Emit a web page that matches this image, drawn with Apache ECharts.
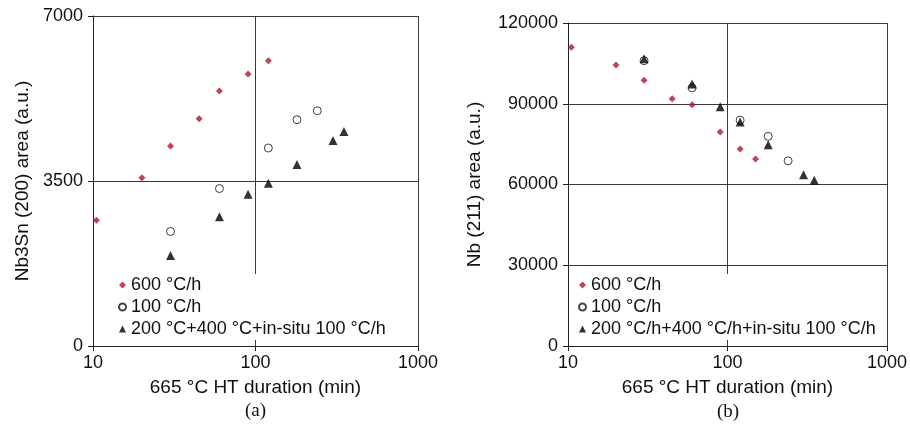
<!DOCTYPE html>
<html>
<head>
<meta charset="utf-8">
<script src="https://cdn.jsdelivr.net/npm/echarts@6/dist/echarts.min.js"></script>
<style>
html,body{margin:0;padding:0;background:#fff;}
#c{width:910px;height:430px;}
</style>
</head>
<body>
<div id="c"></div>
<script>
// ---- Data ----
var nameA600 = '600 °C/h';
var nameA100 = '100 °C/h';
var nameAStep = '200 °C+400 °C+in-situ 100 °C/h';
var nameBStep = '200 °C/h+400 °C/h+in-situ 100 °C/h';

var a600x = [10.5, 20, 30, 45, 60, 90, 120];
var a600y = [2670, 3570, 4240, 4820, 5410, 5770, 6050];
var a100x = [30, 60, 120, 180, 240];
var a100y = [2430, 3340, 4200, 4800, 4990];
var aStepX = [30, 60, 90, 120, 180, 300, 350];
var aStepY = [1920, 2740, 3220, 3450, 3850, 4360, 4550];

var b600x = [10.5, 20, 30, 45, 60, 90, 120, 150];
var b600y = [111000, 104400, 98700, 91900, 89600, 79500, 73200, 69500];
var b100x = [30, 60, 120, 180, 240];
var b100y = [106000, 95900, 83900, 77900, 68800];
var bStepX = [30, 60, 90, 120, 180, 300, 350];
var bStepY = [106700, 97300, 88900, 83200, 74800, 63600, 61600];

var xTitle = '665 °C HT duration (min)';
var yTitleA = 'Nb3Sn (200) area (a.u.)';
var yTitleB = 'Nb (211) area (a.u.)';

function zip(xs, ys){ return xs.map(function(x,i){ return [x, ys[i]]; }); }
function plain(v){ return String(Math.round(v)); }

var FONT = 'Liberation Sans, Arial, sans-serif';
var RED = '#b01528';
var GRID = '#3a3a3a';

function xAxisCfg(gi){
  return {
    type:'log', logBase:10, min:10, max:1000, gridIndex:gi,
    name: xTitle, nameLocation:'middle', nameGap:32,
    nameTextStyle:{fontFamily:FONT, fontSize:19, color:'#111'},
    axisLine:{lineStyle:{color:'#222', width:1}},
    axisTick:{show:true, length:5, lineStyle:{color:'#222'}},
    axisLabel:{fontFamily:FONT, fontSize:18, color:'#111', margin:8, formatter:plain},
    splitLine:{show:true, lineStyle:{color:GRID, width:1}},
    minorTick:{show:false}, minorSplitLine:{show:false}
  };
}
function yAxisCfg(gi, max, interval, name, gap){
  return {
    type:'value', min:0, max:max, interval:interval, gridIndex:gi,
    name:name, nameLocation:'middle', nameGap:gap,
    nameTextStyle:{fontFamily:FONT, fontSize:19, color:'#111'},
    axisLine:{show:true, lineStyle:{color:'#222', width:1}},
    axisTick:{show:true, length:5, lineStyle:{color:'#222'}},
    axisLabel:{fontFamily:FONT, fontSize:18, color:'#111', margin:10, formatter:plain},
    splitLine:{show:true, lineStyle:{color:GRID, width:1}}
  };
}
function legendCfg(left, names){
  return {
    data:names, orient:'vertical', left:left, top:274,
    backgroundColor:'#fff', padding:[2,4,2,4],
    itemWidth:7, itemHeight:7, itemGap:4,
    textStyle:{fontFamily:FONT, fontSize:18, color:'#111'},
    selectedMode:false
  };
}
function redS(name, gi, data){
  return {type:'scatter', name:name, xAxisIndex:gi, yAxisIndex:gi, data:data,
    symbol:'diamond', symbolSize:7, itemStyle:{color:RED}};
}
function circS(name, gi, data){
  return {type:'scatter', name:name, xAxisIndex:gi, yAxisIndex:gi, data:data,
    symbol:'circle', symbolSize:8, itemStyle:{color:'#fff', borderColor:'#111', borderWidth:1}};
}
function triS(name, gi, data){
  return {type:'scatter', name:name, xAxisIndex:gi, yAxisIndex:gi, data:data,
    symbol:'triangle', symbolSize:9, itemStyle:{color:'#000'}};
}

var chart = echarts.init(document.getElementById('c'), null, {renderer:'canvas'});
chart.setOption({
  animation:false,
  backgroundColor:'#fff',
  grid:[
    {left:93, top:16, width:325, height:330},
    {left:568, top:23, width:319, height:323}
  ],
  xAxis:[xAxisCfg(0), xAxisCfg(1)],
  yAxis:[
    yAxisCfg(0, 7000, 3500, yTitleA, 61),
    yAxisCfg(1, 120000, 30000, yTitleB, 84)
  ],
  legend:[
    legendCfg(114, [nameA600, nameA100, nameAStep]),
    legendCfg(574, [nameA600, nameA100, nameBStep])
  ],
  series:[
    redS(nameA600, 0, zip(a600x, a600y)),
    circS(nameA100, 0, zip(a100x, a100y)),
    triS(nameAStep, 0, zip(aStepX, aStepY)),
    redS(nameA600, 1, zip(b600x, b600y)),
    circS(nameA100, 1, zip(b100x, b100y)),
    triS(nameBStep, 1, zip(bStepX, bStepY))
  ],
  graphic:[
    {type:'text', left:245, top:402, style:{text:'(a)', fontFamily:'Liberation Serif, Times New Roman, serif', fontSize:19, fill:'#111'}},
    {type:'text', left:717, top:403, style:{text:'(b)', fontFamily:'Liberation Serif, Times New Roman, serif', fontSize:19, fill:'#111'}}
  ]
});
</script>
</body>
</html>
